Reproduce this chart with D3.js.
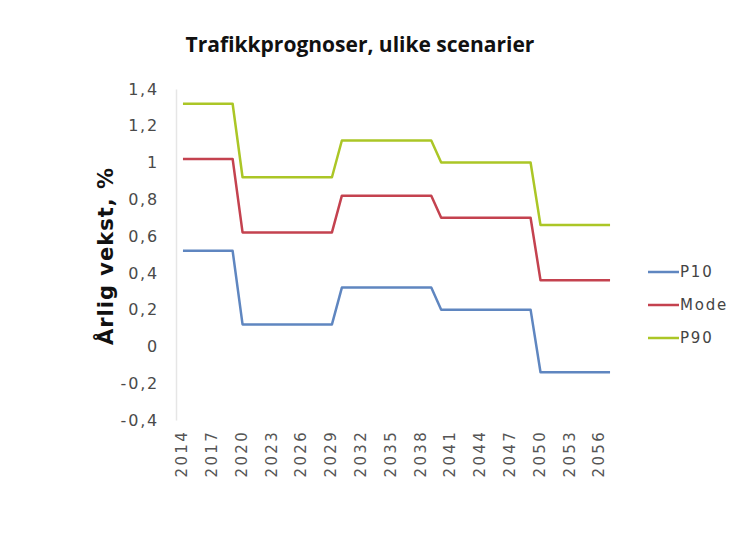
<!DOCTYPE html>
<html>
<head>
<meta charset="utf-8">
<script src="https://cdn.jsdelivr.net/npm/d3@7"></script>
<style>
  html, body { margin: 0; padding: 0; background: #fff; }
  svg { display: block; }
  .dv { font-family: 'DejaVu Sans', Verdana, sans-serif; }
</style>
</head>
<body>
<svg id="chart" width="734" height="544"></svg>
<script>
// ---- data ----
const years = d3.range(2014, 2058); // 2014..2057
const tickYears = [2014, 2017, 2020, 2023, 2026, 2029, 2032, 2035, 2038, 2041, 2044, 2047, 2050, 2053, 2056];
const yTicks = [-0.4, -0.2, 0, 0.2, 0.4, 0.6, 0.8, 1, 1.2, 1.4];
const seriesNames = ["P10", "Mode", "P90"];
const p10 = [
  0.52,0.52,0.52,0.52,0.52,0.52,
  0.12,0.12,0.12,0.12,0.12,0.12,0.12,0.12,0.12,0.12,
  0.32,0.32,0.32,0.32,0.32,0.32,0.32,0.32,0.32,0.32,
  0.20,0.20,0.20,0.20,0.20,0.20,0.20,0.20,0.20,0.20,
  -0.14,-0.14,-0.14,-0.14,-0.14,-0.14,-0.14,-0.14
];
const mode = [
  1.02,1.02,1.02,1.02,1.02,1.02,
  0.62,0.62,0.62,0.62,0.62,0.62,0.62,0.62,0.62,0.62,
  0.82,0.82,0.82,0.82,0.82,0.82,0.82,0.82,0.82,0.82,
  0.70,0.70,0.70,0.70,0.70,0.70,0.70,0.70,0.70,0.70,
  0.36,0.36,0.36,0.36,0.36,0.36,0.36,0.36
];
const p90 = [
  1.32,1.32,1.32,1.32,1.32,1.32,
  0.92,0.92,0.92,0.92,0.92,0.92,0.92,0.92,0.92,0.92,
  1.12,1.12,1.12,1.12,1.12,1.12,1.12,1.12,1.12,1.12,
  1.00,1.00,1.00,1.00,1.00,1.00,1.00,1.00,1.00,1.00,
  0.66,0.66,0.66,0.66,0.66,0.66,0.66,0.66
];
const seriesValues = [p10, mode, p90];
const colors = ["#5f86c0", "#c4424f", "#abc626"];

// ---- layout ----
const svg = d3.select("#chart");
const plotLeft = 176, plotRight = 615, plotTop = 89, plotBottom = 420;

const x = d3.scaleBand().domain(years).range([plotLeft + 2, plotRight]);
const xc = d => x(d) + x.bandwidth() / 2;
const y = d3.scaleLinear().domain([-0.4, 1.4]).range([plotBottom, plotTop]);

const loc = d3.formatLocale({decimal: ",", thousands: " ", grouping: [3], currency: ["", ""], minus: "-"});
const fmt = loc.format("~f");

// title
svg.append("text")
  .attr("x", 360).attr("y", 52)
  .attr("text-anchor", "middle")
  .style("font-family", "'Open Sans', 'Noto Sans', sans-serif")
  .attr("font-weight", "bold")
  .attr("font-size", 21)
  .attr("fill", "#111")
  .text("Trafikkprognoser, ulike scenarier");

// y axis title
svg.append("text")
  .attr("class", "dv")
  .attr("transform", "translate(113,256) rotate(-90)")
  .attr("text-anchor", "middle")
  .attr("font-weight", "bold")
  .attr("font-size", 21)
  .attr("letter-spacing", 1)
  .attr("fill", "#111")
  .text("Årlig vekst, %");

// y axis
const yAxis = svg.append("g")
  .attr("transform", `translate(${plotLeft},0)`)
  .call(d3.axisLeft(y).tickValues(yTicks).tickFormat(d => fmt(+d.toFixed(1))).tickSize(0).tickPadding(17));
yAxis.select(".domain").attr("stroke", "#e6e6e6").attr("stroke-width", 1.5);
yAxis.selectAll("text")
  .attr("class", "dv")
  .attr("font-size", 16)
  .attr("letter-spacing", 1.8)
  .attr("fill", "#4a4a4a");

// x axis labels
const xAxis = svg.append("g")
  .attr("transform", `translate(0,${plotBottom})`)
  .call(d3.axisBottom(x).tickValues(tickYears).tickSize(0).tickPadding(0));
xAxis.select(".domain").remove();
xAxis.selectAll("text")
  .attr("class", "dv")
  .attr("font-size", 15)
  .attr("letter-spacing", 2.3)
  .attr("fill", "#555")
  .attr("transform", "rotate(-90)")
  .attr("text-anchor", "end")
  .attr("x", -10)
  .attr("y", -1)
  .attr("dy", "0.35em");

// lines
const line = d3.line()
  .x((d, i) => xc(years[i]))
  .y(d => y(d));
svg.append("g").selectAll("path")
  .data(seriesValues)
  .join("path")
  .attr("d", d => line(d))
  .attr("fill", "none")
  .attr("stroke", (d, i) => colors[i])
  .attr("stroke-width", 2.5)
  .attr("stroke-linejoin", "round");

// legend
const lg = svg.append("g").selectAll("g")
  .data(seriesNames)
  .join("g")
  .attr("transform", (d, i) => `translate(648,${272 + i * 33})`);
lg.append("line")
  .attr("x1", 0).attr("x2", 31)
  .attr("stroke", (d, i) => colors[i])
  .attr("stroke-width", 2.5);
lg.append("text")
  .attr("class", "dv")
  .attr("x", 32).attr("dy", "0.35em")
  .attr("font-size", 15)
  .attr("letter-spacing", 1.8)
  .attr("fill", "#444")
  .text(d => d);
</script>
</body>
</html>
